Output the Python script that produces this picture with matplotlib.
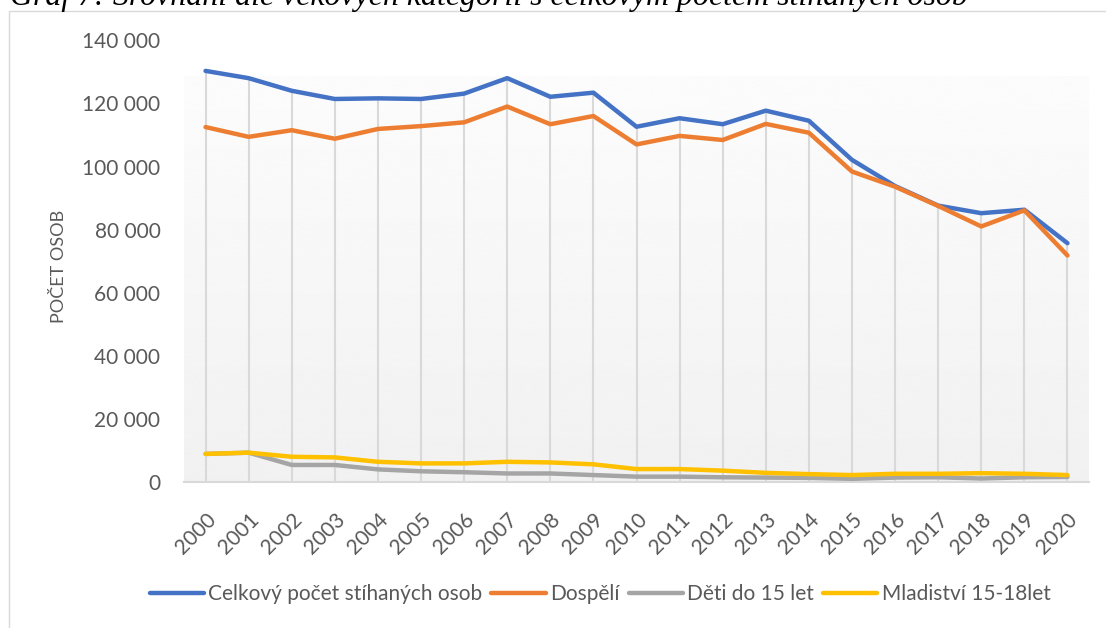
import numpy as np
import matplotlib
matplotlib.use("Agg")
import matplotlib.pyplot as plt
from matplotlib.patches import Rectangle
from matplotlib.ticker import FuncFormatter

# ------- data -------
years = [str(y) for y in range(2000, 2021)]
celkem = [130300, 128000, 124000, 121400, 121600, 121400, 123100, 128000, 122100, 123400,
          112600, 115300, 113400, 117700, 114500, 102100, 93800, 87600, 85200, 86300, 75700]
dospeli = [112500, 109400, 111500, 108800, 111900, 112800, 114000, 119000, 113400, 116000,
           107000, 109700, 108400, 113500, 110700, 98400, 93600, 87500, 81000, 86100, 71800]
deti = [8900, 9300, 5400, 5400, 4000, 3400, 3100, 2700, 2700, 2200,
        1700, 1700, 1500, 1400, 1300, 1000, 1400, 1500, 1100, 1500, 1600]
mladistvi = [8900, 9300, 8000, 7800, 6400, 5900, 5900, 6400, 6200, 5600,
             4100, 4100, 3600, 2900, 2500, 2200, 2600, 2600, 2800, 2600, 2200]

series_names = ["Celkový počet stíhaných osob", "Dospělí", "Děti do 15 let", "Mladiství 15-18let"]
series_colors = ["#4472C4", "#ED7D31", "#A5A5A5", "#FFC000"]
title = "Graf 7: Srovnání dle věkových kategorií s celkovým počtem stíhaných osob"

plt.rcParams['font.family'] = ['Lato', 'DejaVu Sans']
txt_color = "#595959"

W, H = 1106, 628
fig = plt.figure(figsize=(W / 100, H / 100), dpi=100)
fig.patch.set_facecolor("white")

# chart area border (only left/top visible in the crop)
fig.patches.append(Rectangle((9 / W, -0.2), 1.2, 1 - 11 / H + 0.2, transform=fig.transFigure,
                             fill=False, edgecolor="#d9d9d9", linewidth=1.0))

ax = fig.add_axes([184 / W, 1 - 482 / H, (1089 - 184) / W, (482 - 40.3) / H])
ax.set_facecolor("none")
x = np.arange(len(years))
ax.set_xlim(-0.5, len(years) - 0.5)
ax.set_ylim(0, 140000)

# plot area gradient fill
grad = np.linspace(0.988, 0.945, 256).reshape(-1, 1)
ax.imshow(grad, extent=[-0.5, len(years) - 0.5, 0, 128400], aspect='auto',
          cmap='gray', vmin=0, vmax=1, zorder=0, interpolation='bicubic')

# drop lines
top = np.max(np.vstack([celkem, dospeli, deti, mladistvi]), axis=0)
ax.vlines(x, 0, top, color="#d9d9d9", linewidth=1.5, zorder=1)

for vals, name, col in zip([celkem, dospeli, deti, mladistvi], series_names, series_colors):
    ax.plot(x, vals, color=col, linewidth=3.2, label=name, zorder=3,
            solid_capstyle='round', solid_joinstyle='round')

for s in ["top", "right", "left"]:
    ax.spines[s].set_visible(False)
ax.spines["bottom"].set_color("#d9d9d9")
ax.spines["bottom"].set_linewidth(1.5)
ax.spines["bottom"].set_zorder(2)

ax.set_yticks(np.arange(0, 140001, 20000))
ax.yaxis.set_major_formatter(FuncFormatter(lambda v, p: f"{int(v):,}".replace(",", " ")))
ax.tick_params(axis='y', length=0, pad=17, labelsize=15, labelcolor=txt_color)
ax.set_xticks(x)
ax.set_xticklabels(years, rotation=45, ha='right', va='top', rotation_mode='anchor')
ax.tick_params(axis='x', length=0, pad=20, labelsize=15, labelcolor=txt_color)

fig.text(59 / W, 1 - 266 / H, "POČET OSOB", rotation=90, ha='center', va='center',
         fontsize=13, color=txt_color)

leg = fig.legend(loc='center', bbox_to_anchor=(600 / W, 1 - 594 / H), ncol=4, frameon=False,
                 fontsize=15, handlelength=2.6, handletextpad=0.2, columnspacing=0.45,
                 labelcolor=txt_color)

# title, cut off by the top edge like the source
t = fig.text(10 / W, 1 - 5 / H, title, ha='left', va='baseline', fontsize=23,
             family=['Liberation Serif', 'DejaVu Serif'], style='italic', color='black')
fig.canvas.draw()
w = t.get_window_extent().width
t.set_fontsize(23 * 961 / w)

fig.savefig("out.png", dpi=100)
